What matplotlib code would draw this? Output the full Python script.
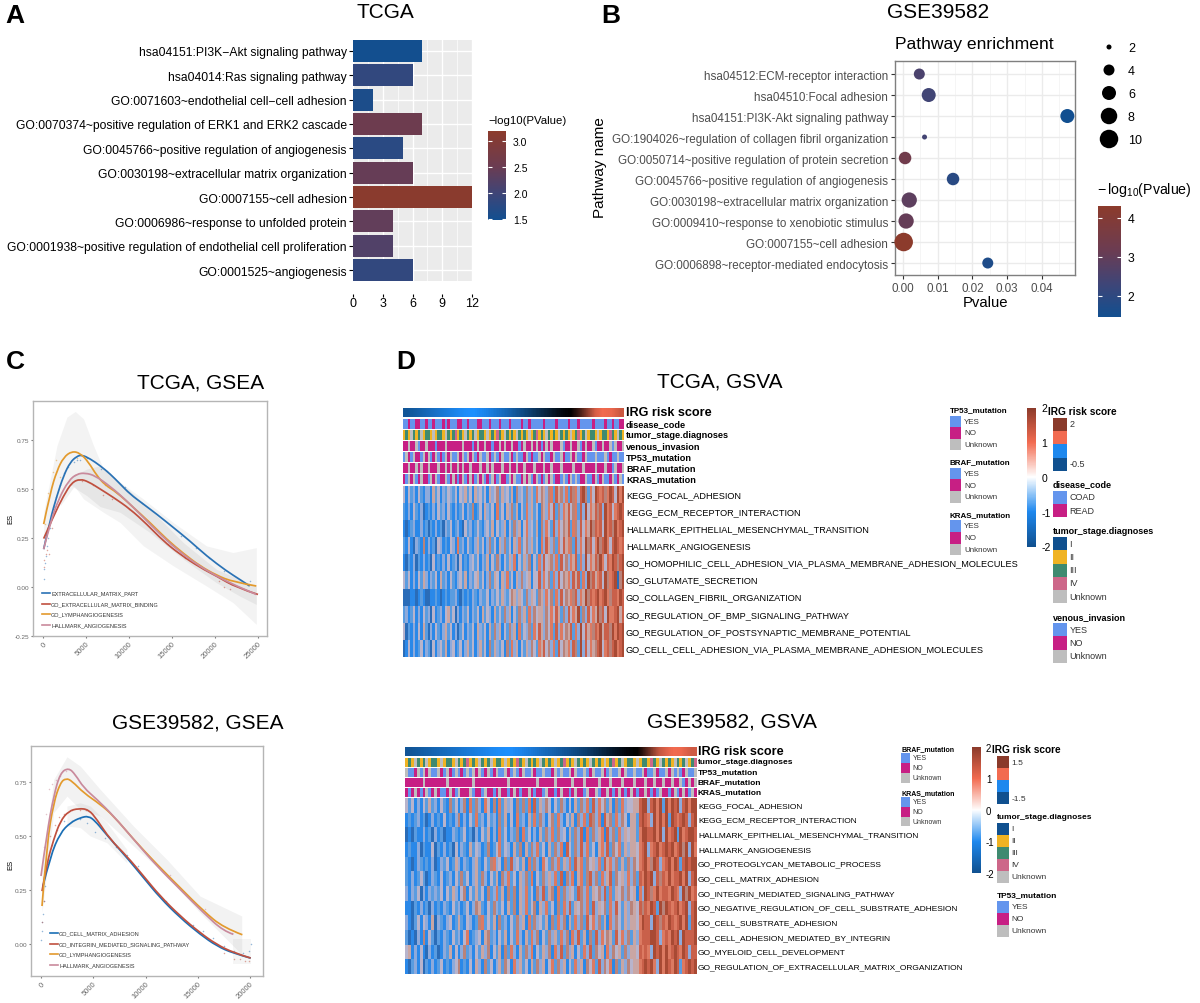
import numpy as np
import matplotlib
matplotlib.use("Agg")
import matplotlib.pyplot as plt
from matplotlib.cm import ScalarMappable
from matplotlib.colors import LinearSegmentedColormap, ListedColormap, Normalize
from matplotlib.patches import PathPatch, Rectangle
from matplotlib.path import Path

plt.rcParams['font.family'] = ['Liberation Sans', 'DejaVu Sans']
plt.rcParams['axes.unicode_minus'] = False

W, H = 1200, 1004

# panel A
a_terms = ['hsa04151:PI3K\u2212Akt signaling pathway', 'hsa04014:Ras signaling pathway',
           'GO:0071603~endothelial cell\u2212cell adhesion',
           'GO:0070374~positive regulation of ERK1 and ERK2 cascade',
           'GO:0045766~positive regulation of angiogenesis',
           'GO:0030198~extracellular matrix organization', 'GO:0007155~cell adhesion',
           'GO:0006986~response to unfolded protein',
           'GO:0001938~positive regulation of endothelial cell proliferation',
           'GO:0001525~angiogenesis']
a_counts = [7, 6, 2, 7, 5, 6, 12, 4, 4, 6]
a_logp = [1.5, 1.85, 1.6, 2.55, 1.75, 2.45, 3.15, 2.4, 2.2, 1.85]

# panel B
b_terms = ['hsa04512:ECM-receptor interaction', 'hsa04510:Focal adhesion',
           'hsa04151:PI3K-Akt signaling pathway',
           'GO:1904026~regulation of collagen fibril organization',
           'GO:0050714~positive regulation of protein secretion',
           'GO:0045766~positive regulation of angiogenesis',
           'GO:0030198~extracellular matrix organization',
           'GO:0009410~response to xenobiotic stimulus', 'GO:0007155~cell adhesion',
           'GO:0006898~receptor-mediated endocytosis']
b_pvalue = [0.0047, 0.0074, 0.0473, 0.0062, 0.0006, 0.0144, 0.0018, 0.0009, 0.0002, 0.0244]
b_logp = [2.55, 2.35, 1.4, 2.4, 3.35, 1.9, 2.9, 3.05, 4.3, 1.7]
b_count = [4, 6, 6, 2, 5, 5, 7, 7, 10, 4]
b_legend_counts = [2, 4, 6, 8, 10]

# panel C, GSEA TCGA
c_blue_x = [77, 850, 1623, 2396, 3168, 3941, 4521, 5487, 6646, 7805, 8965, 10124, 11669, 13215, 15147, 17079, 19011, 21329, 22875, 24034]
c_blue_y = [.193, .346, .466, .568, .637, .667, .674, .654, .619, .577, .526, .474, .423, .372, .304, .235, .159, .082, .039, .005]
c_red_x = [77, 1237, 2396, 3362, 4328, 5294, 6646, 8192, 10124, 12056, 13988, 15920, 18239, 20170, 22488, 25000]
c_red_y = [.247, .363, .466, .534, .551, .537, .5, .457, .398, .321, .235, .167, .1, .056, -.003, -.038]
c_orange_x = [77, 850, 1623, 2396, 3362, 4328, 5294, 6260, 7226, 8578, 10510, 12442, 14374, 16306, 18239, 20170, 22102, 24807]
c_orange_y = [.321, .483, .594, .662, .693, .683, .637, .568, .52, .483, .406, .329, .244, .172, .108, .06, .026, .005]
c_pink_x = [77, 850, 1816, 2976, 3941, 4907, 6067, 7805, 9737, 11669, 13601, 15533, 17852, 20170, 22488, 24807]
c_pink_y = [.193, .329, .449, .543, .577, .582, .568, .514, .44, .355, .27, .193, .116, .056, .005, -.038]
c_dots_blue_x = [77, 116, 193, 309, 464, 618, 850, 1005, 1237, 1546, 1932, 2396, 2860, 3555, 3941, 4328, 5100, 6800, 7500, 9500, 11500, 16100, 17800, 19300, 21100, 24100]
c_dots_blue_y = [.04, .09, .12, .16, .21, .25, .3, .36, .41, .46, .52, .58, .61, .64, .65, .65, .66, .6, .59, .51, .43, .26, .2, .15, .08, .03]
c_dots_red_x = [77, 150, 300, 450, 700, 1000, 3700, 4500, 5800, 7000, 8000, 10000, 14500, 16500, 20500, 21000, 21800]
c_dots_red_y = [.1, .14, .17, .19, .17, .3, .57, .54, .52, .47, .45, .4, .22, .15, .03, .0, -.01]
c_dots_orange_x = [200, 550, 1150, 1500, 2000, 3000, 4000, 7200]
c_dots_orange_y = [.32, .48, .585, .65, .56, .63, .66, .52]
c_band1_x = [77, 1623, 2782, 3748, 4714, 5873, 7033, 8965, 11669, 15147, 19011, 22102, 24807]
c_band1_hi = [.381, .722, .867, .896, .858, .722, .602, .534, .449, .329, .21, .176, .201]
c_band1_lo = [.21, .449, .531, .509, .449, .415, .381, .329, .21, .108, .005, -.08, -.191]
c_band2_x = [2009, 3555, 5100, 6646, 8965, 12442, 16306, 20170, 22875, 24807]
c_band2_hi = [.483, .568, .602, .619, .534, .398, .227, .09, .039, .005]
c_band2_lo = [.415, .509, .466, .41, .381, .278, .142, .022, -.046, -.089]
c_names = ['EXTRACELLULAR_MATRIX_PART', 'GO_EXTRACELLULAR_MATRIX_BINDING', 'GO_LYMPHANGIOGENESIS', 'HALLMARK_ANGIOGENESIS']

# panel C, GSEA GSE39582
e_pink_x = [0, 573, 1210, 1847, 2644, 3280, 4077, 5351, 6943, 8854, 11084, 13313, 15543, 17454, 18409]
e_pink_y = [.315, .515, .685, .793, .816, .785, .724, .67, .593, .485, .361, .253, .145, .06, .045]
e_orange_x = [96, 573, 1210, 1847, 2389, 2962, 4077, 5669, 6943, 8854, 11084, 13313, 15543, 17454, 19270]
e_orange_y = [.176, .469, .654, .747, .768, .755, .70, .647, .593, .485, .369, .261, .153, .076, .043]
e_red_x = [96, 573, 1210, 1847, 2644, 3599, 4555, 5351, 6625, 8217, 9810, 11402, 13313, 15224, 16816, 18409, 20065]
e_red_y = [.245, .376, .484, .569, .616, .628, .623, .577, .484, .407, .315, .222, .13, .052, -.002, -.04, -.065]
e_blue_x = [191, 892, 1847, 2803, 3758, 4555, 5192, 5988, 6943, 8217, 9810, 11402, 13313, 15224, 16816, 18409, 20065]
e_blue_y = [.268, .407, .515, .562, .585, .593, .569, .523, .469, .40, .307, .214, .122, .045, -.009, -.043, -.065]
e_dots_blue_x = [30, 60, 100, 150, 250, 400, 700, 1100, 1500, 2200, 3000, 3700, 4400, 5200, 6100, 7200, 8200, 9300, 12000, 14500, 15500, 16500, 17500, 18500, 19300, 19900, 20100]
e_dots_blue_y = [.02, .06, .1, .14, .2, .27, .38, .46, .53, .57, .57, .58, .56, .52, .49, .45, .41, .36, .2, .09, .06, .03, -.01, -.03, -.04, -.03, .0]
e_dots_red_x = [100, 250, 500, 900, 1300, 1700, 2200, 3000, 3700, 4300, 17500, 18500, 19000, 19500, 19900]
e_dots_red_y = [.1, .2, .35, .5, .55, .59, .6, .62, .62, .62, -.04, -.07, -.07, -.08, -.08]
e_dots_pink_x = [300, 500, 800, 1050, 1400, 1800, 2400, 12300, 15700, 18300]
e_dots_pink_y = [.45, .6, .72, .74, .76, .78, .8, .32, .16, .05]
e_band1_x = [96, 1210, 2484, 3758, 5669, 8854, 12039, 15224, 19206]
e_band1_hi = [.33, .762, .867, .824, .716, .546, .392, .222, .13]
e_band1_lo = [.145, .608, .685, .623, .593, .454, .315, .145, -.048]
e_band2_x = [2484, 3758, 4714, 6306, 8217]
e_band2_hi = [.639, .654, .639, .562, .438]
e_band2_lo = [.546, .539, .5, .469, .376]
e_band3_x = [18409, 20065]
e_band3_hi = [.022, .022]
e_band3_lo = [-.094, -.094]
e_names = ['GO_CELL_MATRIX_ADHESION', 'GO_INTEGRIN_MEDIATED_SIGNALING_PATHWAY', 'GO_LYMPHANGIOGENESIS', 'HALLMARK_ANGIOGENESIS']

# panel D, TCGA heatmap (one digit per stripe, low to high score)
d_labels = ['KEGG_FOCAL_ADHESION', 'KEGG_ECM_RECEPTOR_INTERACTION', 'HALLMARK_EPITHELIAL_MESENCHYMAL_TRANSITION',
            'HALLMARK_ANGIOGENESIS', 'GO_HOMOPHILIC_CELL_ADHESION_VIA_PLASMA_MEMBRANE_ADHESION_MOLECULES',
            'GO_GLUTAMATE_SECRETION', 'GO_COLLAGEN_FIBRIL_ORGANIZATION', 'GO_REGULATION_OF_BMP_SIGNALING_PATHWAY',
            'GO_REGULATION_OF_POSTSYNAPTIC_MEMBRANE_POTENTIAL', 'GO_CELL_CELL_ADHESION_VIA_PLASMA_MEMBRANE_ADHESION_MOLECULES']
d_rows = ['4142314213 3152413243 2414352415 3424153462 5342516342 6352746536 7285637286 7389627498 7867984979',
          '2131421301 2131423142 1312413261 2415324172 4153625142 7352416537 4826375846 7283947586 8397847898',
          '1012311312 0213120324 1231042312 4213425142 3514263514 7342516374 2837465827 6384759687 8497869789',
          '2141032161 3120431214 3172314213 5241362415 3624153724 6352417385 3627485762 8374968479 6897489878',
          '1021302131 2041213141 2304121342 4132514263 1425371425 3614273845 6372846375 8273947586 9748798689',
          '4241314253 1324152314 2134251324 5241362541 5372415363 4514483746 2738465738 5827396857 8496789069',
          '0001101210 0112101212 2310212132 1322413242 5324653542 6354265374 6273846576 8375968789 7897688798',
          '2312413142 3041231452 4031324132 4152431524 2635142635 2736455364 7485263847 5926384759 6849778958',
          '4021314152 0314213524 1302413241 5324152635 1426351724 3627485364 7283746582 7394857687 9588697989',
          '0141312413 2041342513 4124135241 3524162532 4162735142 5364275846 3728465738 6293847568 9478689789']
d_risk = [-0.45, -0.38, -0.30, -0.22, -0.14, -0.06, 0.02, 0.09, 0.125, 0.16, 0.2, 0.25, 0.3, 0.36, 0.42, 0.48, 0.54, 0.6, 0.66, 0.72, 0.75, 0.9, 1.1, 1.3, 1.38, 1.42, 1.6]
d_disease = 'aabaabbaab aabaaababa aabbaabaaa bbaaabaaab aaabaaaaba abaaaaabaa aabaaaabaa abaaaaabaa aabaabaabb'
d_stage = '1214212412 2141221421 2312142124 1221412132 1421214212 1412312142 1214212141 2312412214 1221321421'
d_venous = 'bbcbbcabbc bbbabbbcbb bbbbcbbbab cbbcbbabbc bcbbcbbabc bbcbcbabcb cbbbcabbcb bcabcbbcab bcbbcacbbc'
d_tp53 = 'acbacbbacb cabcabacbc aacbcacbca bcaacbacab caacbacaab cabaacbcaa bcaacbaacb caabcaaaca aacabaacaa'
d_braf = 'bbcbbcbcbb cbbbcbbcbc bbcbcbbcbb bcbbcbcbbb cbbcbbcbbc bbbcbbbcbb cbbbcbbbbc bbbcbbbbcb bbcbbacbbc'
d_kras = 'bacbcabcbb acbcabbcab cbabcabcba cbcabacbac bbacbcaabc bcabcabacb cabbacabca cabbcaabca bcaabcabca'

# panel D, GSE39582 heatmap
e_labels = ['KEGG_FOCAL_ADHESION', 'KEGG_ECM_RECEPTOR_INTERACTION', 'HALLMARK_EPITHELIAL_MESENCHYMAL_TRANSITION',
            'HALLMARK_ANGIOGENESIS', 'GO_PROTEOGLYCAN_METABOLIC_PROCESS', 'GO_CELL_MATRIX_ADHESION',
            'GO_INTEGRIN_MEDIATED_SIGNALING_PATHWAY', 'GO_NEGATIVE_REGULATION_OF_CELL_SUBSTRATE_ADHESION',
            'GO_CELL_SUBSTRATE_ADHESION', 'GO_CELL_ADHESION_MEDIATED_BY_INTEGRIN', 'GO_MYELOID_CELL_DEVELOPMENT',
            'GO_REGULATION_OF_EXTRACELLULAR_MATRIX_ORGANIZATION']
e_rows = ['4241314252 3142162413 6172631741 6172534162 6271825364 1426314152 6372837462 5162734455 8993897929 7989389799',
          '1212312013 1214121361 3142723142 3162514172 3152726314 6273142516 3728637185 6273641552 8987397979 2987898389',
          '0102113120 3120113212 4120314251 3172413261 7241315263 7263415263 8172635718 3627354552 7998897939 7892978998',
          '1211302114 0213120413 2152431261 2472431526 1526372415 2637184263 8372415738 2647253554 7893789789 8978969397',
          '2101321213 0132412531 3213521426 7341628342 5172631742 6372537285 7264537285 7362526364 7897698378 9798289899',
          '2131242013 2141231426 2413526314 2516372415 3627142635 3728163715 7268362735 8264537362 8798938687 9788979389',
          '3132403132 3241425314 6142524162 3725162615 3724163825 6172635428 6372546382 7254636451 7398679788 7987396978',
          '1102131203 1213214231 2413652142 6324152615 3724615372 4162738254 6372835462 7384253654 8687982969 8789789389',
          '3102414315 0321341252 1431267242 5162314263 5172634251 6273615273 6284736251 7364253554 7988398687 9878979289',
          '2010316142 0213214231 4712341562 3142514273 1527361426 3527361738 2516283746 5284736253 7888998378 7989398889',
          '4513141031 2013251413 6231425361 4251627315 2637142536 1738263514 2738264517 3645263554 8787398979 7898798388',
          '1023140213 1241213461 2141531624 1352641735 2415263514 7263514273 5164728364 7162536455 7898973979 8798278989']
e_risk = [-1.44, -1.36, -1.28, -1.2, -1.12, -1.04, -0.96, -0.88, -0.8, -0.75, -0.7, -0.64, -0.58, -0.52, -0.46, -0.4, -0.34, -0.26, -0.18, -0.1, -0.03, 0.0, 0.3, 0.6, 0.72, 0.78, 1.0]
e_stage = '1214212412 2141221421 2312142124 1221412132 1421214212 1412312142 1214212141 2312412214 1221321421 2142124123'
e_tp53 = 'caabcacbca acbacbacab acacbcabca bcaacbacab caacbaacaa bcacaacbca acabcaacba caacbcaaca acbaacbaac bcacabcaac'
e_braf = 'bbbbbbcbbb bbbbcbbbbb bbbcbbbbbb bbbbbcbbbb bbbbbcbbbb bcbbbbbcbb bcbbbbcbbb cbbbcbbbcb bbcbbcbbcb bcbbcabcbc'
e_kras = 'babcbabcab cbaabcbacb bbcabbacbb abcbbabcba bbcbabbacb babcbbabcb bacbbcabbc babcbabcba bbcbabacbb abcabcbacb'

# colours
low_high = LinearSegmentedColormap.from_list('lh', [(0, '#124f90'), (0.3, '#3f4577'), (0.6, '#6b3c52'), (1, '#8c3b2c')])
score_cmap = LinearSegmentedColormap.from_list('score', ['#10508f', '#1e88ee', '#ffffff', '#f26b50', '#8a3a2a'])
risk_cmap = LinearSegmentedColormap.from_list('risk', ['#10508f', '#1e90ff', '#000000', '#f26b50', '#8a3a2a'])
stripe_cmap = ListedColormap(['#2a6cb8', '#2a88e8', '#5a9ce0', '#8eaadb', '#b8b4cc',
                              '#c9a6a4', '#b9837a', '#dc7a62', '#c9604a', '#a84a34'])
yes_no = {'a': '#6495ed', 'b': '#c71f84', 'c': '#bebebe'}
stage_colors = ['#10508f', '#f0b323', '#3f8a70', '#cd6789', '#bebebe']
line_blue, line_red, line_orange, line_pink = '#2a72b5', '#c0503f', '#e39a2d', '#c98a9c'

fig = plt.figure(figsize=(W / 100, H / 100), dpi=100)


def px_ax(x0, y0, x1, y1):
    return fig.add_axes([x0 / W, 1 - y1 / H, (x1 - x0) / W, (y1 - y0) / H])


ov = fig.add_axes([0, 0, 1, 1], zorder=10)
ov.set_xlim(0, W)
ov.set_ylim(H, 0)
ov.axis('off')


def put(x, y, s, size, weight='normal', ha='left', color='black', rotation=0):
    ov.text(x, y, s, fontsize=size, fontweight=weight, ha=ha, va='center', color=color, rotation=rotation)


def swatches(x0, x1, ys, colors):
    for i, c in enumerate(colors):
        ov.add_patch(Rectangle((x0, ys[i]), x1 - x0, ys[i + 1] - ys[i], facecolor=c, edgecolor='none'))


def ticks_bar(box, norm, cmap, ticks, size, white=False):
    cax = px_ax(*box)
    cb = fig.colorbar(ScalarMappable(norm=norm, cmap=cmap), cax=cax)
    cb.outline.set_visible(False)
    cb.set_ticks(ticks)
    if white:
        cax.tick_params(axis='y', color='white', direction='in', length=3, left=True, right=True, labelsize=size, pad=5)
    else:
        cax.tick_params(axis='y', length=0, labelsize=size, pad=4)
    return cb


def smooth_line(ax, xs, ys, color):
    # knots act as quadratic control points so the thin lines have no corners
    pts = list(zip(xs, ys))
    verts, codes = [pts[0]], [Path.MOVETO]
    for i in range(1, len(pts) - 1):
        end = pts[-1] if i == len(pts) - 2 else ((pts[i][0] + pts[i + 1][0]) / 2, (pts[i][1] + pts[i + 1][1]) / 2)
        verts += [pts[i], end]
        codes += [Path.CURVE3, Path.CURVE3]
    ax.add_patch(PathPatch(Path(verts, codes), fill=False, edgecolor=color, lw=1.25))


for x, y, s in [(15, 16, 'A'), (611, 16, 'B'), (15, 362, 'C'), (406, 362, 'D')]:
    put(x, y, s, 19, 'bold', ha='center')
put(385, 12, 'TCGA', 15, ha='center')
put(938, 12, 'GSE39582', 15, ha='center')
put(201, 383, 'TCGA, GSEA', 15, ha='center')
put(198, 723, 'GSE39582, GSEA', 15, ha='center')
put(719.5, 382, 'TCGA, GSVA', 15, ha='center')
put(731.5, 722, 'GSE39582, GSVA', 15, ha='center')

# A: bars
ax = px_ax(353, 41, 472, 282)
ax.set_facecolor('#ebebeb')
norm_a = Normalize(1.48, 3.19)
ax.barh(range(10), a_counts, height=0.9, color=low_high(norm_a(a_logp)), zorder=3)
ax.set_xlim(0, 12)
ax.set_ylim(9.45, -0.45)
ax.set_xticks([0, 3, 6, 9, 12])
ax.set_xticks([1.5, 4.5, 7.5, 10.5], minor=True)
ax.set_yticks(range(10))
ax.set_yticklabels(a_terms, fontsize=8.7)
ax.grid(True, which='major', color='white', lw=1, zorder=1)
ax.grid(True, which='minor', axis='x', color='white', lw=0.5, zorder=1)
ax.tick_params(axis='x', which='minor', length=0)
ax.tick_params(axis='x', labelsize=9, length=2, pad=0.5)
ax.tick_params(axis='y', length=3, pad=1.5)
for k in ['top', 'right', 'left']:
    ax.spines[k].set_visible(False)
ax.spines['bottom'].set_position(('outward', 9))
ax.spines['bottom'].set_visible(False)
put(488, 121, '\u2212log10(PValue)', 8.2)
ticks_bar((488, 132, 506, 221), norm_a, low_high, [1.5, 2.0, 2.5, 3.0], 7.5, white=True)

# B: bubbles
ax = px_ax(895, 62, 1075, 276)
norm_b = Normalize(1.46, 4.3)
diam_px = np.interp(b_count, [2, 4, 6, 8, 10], [5, 11, 14, 16.5, 18.5])
ax.scatter(b_pvalue, range(10), s=(diam_px * 0.72) ** 2, c=low_high(norm_b(b_logp)), linewidths=0, zorder=3, clip_on=False)
ax.set_xlim(-0.0023, 0.0495)
ax.set_ylim(9.57, -0.62)
ax.set_xticks([0, 0.01, 0.02, 0.03, 0.04])
ax.set_xticklabels(['0.00', '0.01', '0.02', '0.03', '0.04'], fontsize=8.4, color='#4d4d4d')
ax.set_xticks([0.005, 0.015, 0.025, 0.035, 0.045], minor=True)
ax.set_yticks(range(10))
ax.set_yticklabels(b_terms, fontsize=8.4, color='#4d4d4d')
ax.grid(True, which='major', color='#ebebeb', lw=1, zorder=1)
ax.grid(True, which='minor', axis='x', color='#f2f2f2', lw=0.5, zorder=1)
ax.tick_params(axis='x', which='minor', length=0)
ax.tick_params(length=3, color='#333333', pad=2)
for s in ax.spines.values():
    s.set_color('#7f7f7f')
    s.set_linewidth(1)
put(895, 45, 'Pathway enrichment', 12.6)
put(985, 303, 'Pvalue', 10.7, ha='center')
put(600, 168, 'Pathway name', 11, ha='center', rotation=90)
leg_y = [48, 71, 94, 117, 140]
ov.scatter([1109] * 5, leg_y, s=(np.interp(b_legend_counts, [2, 4, 6, 8, 10], [5, 11, 14, 16.5, 18.5]) * 0.72) ** 2, c='black', linewidths=0)
for y, n in zip(leg_y, b_legend_counts):
    put(1128, y + 1, str(n), 9)
put(1097, 190, r'$\mathregular{-\,log_{10}(Pvalue)}$', 10.2)
ticks_bar((1097.5, 207, 1120.5, 318), norm_b, low_high, [2, 3, 4], 8.8, white=True)


def gsea_panel(box, xlim, ylim, xticks, curves, dots, bands, names, leg_x, leg_ys):
    ax = px_ax(*box)
    for bx, lo, hi, alpha in bands:
        ax.fill_between(bx, lo, hi, color='#808080', alpha=alpha, lw=0)
    for dx, dy, c in dots:
        ax.scatter(dx, dy, s=1.2, color=c, alpha=0.5, linewidths=0)
    for cx, cy, c in curves:
        smooth_line(ax, cx, cy, c)
    ax.set_xlim(*xlim)
    ax.set_ylim(*ylim)
    ax.set_xticks(xticks)
    ax.set_yticks([0, .25, .5, .75] if ylim[0] > -0.2 else [-.25, 0, .25, .5, .75])
    ax.yaxis.set_major_formatter(lambda v, p: f'{v:.2f}')
    ax.tick_params(axis='x', labelsize=5.5, labelcolor='#666666', rotation=45, length=1.5, pad=1.5, color='#777777')
    ax.tick_params(axis='y', labelsize=4.6, labelcolor='#666666', length=1.5, pad=1, color='#777777')
    for lab in ax.get_xticklabels():
        lab.set_ha('right')
        lab.set_rotation_mode('anchor')
    for s in ax.spines.values():
        s.set_color('#b5b5b5')
        s.set_linewidth(1)
    for y, n, c in zip(leg_ys, names, [curves[0][2], curves[1][2], curves[2][2], curves[3][2]]):
        ov.plot([leg_x - 9.5, leg_x - 1], [y, y], color=c, lw=1.2)
        put(leg_x, y, n, 4, color='#333333')


gsea_panel((33, 402, 267, 637), (-1163, 26050), (-0.25, 0.949), [0, 5000, 10000, 15000, 20000, 25000],
           [(c_blue_x, c_blue_y, line_blue), (c_red_x, c_red_y, line_red),
            (c_orange_x, c_orange_y, line_orange), (c_pink_x, c_pink_y, line_pink)],
           [(c_dots_blue_x, c_dots_blue_y, line_blue), (c_dots_red_x, c_dots_red_y, line_red),
            (c_dots_orange_x, c_dots_orange_y, line_orange)],
           [(c_band1_x, c_band1_lo, c_band1_hi, 0.09), (c_band2_x, c_band2_lo, c_band2_hi, 0.11)],
           c_names, 51, [594, 605, 615, 626])
put(11, 519, 'ES', 5.5, ha='center', rotation=90)

gsea_panel((31, 747, 263, 977), (-957, 21244), (-0.148, 0.917), [0, 5000, 10000, 15000, 20000],
           [(e_blue_x, e_blue_y, '#1b6fb5'), (e_red_x, e_red_y, line_red),
            (e_orange_x, e_orange_y, line_orange), (e_pink_x, e_pink_y, line_pink)],
           [(e_dots_blue_x, e_dots_blue_y, line_blue), (e_dots_red_x, e_dots_red_y, line_red),
            (e_dots_pink_x, e_dots_pink_y, line_pink)],
           [(e_band1_x, e_band1_lo, e_band1_hi, 0.1), (e_band2_x, e_band2_lo, e_band2_hi, 0.09),
            (e_band3_x, e_band3_lo, e_band3_hi, 0.08)],
           e_names, 59, [934, 945, 955, 966])
put(11, 865, 'ES', 5.5, ha='center', rotation=90)


def to_cells(row):
    return [int(c) for c in row.replace(' ', '')]


def heat_body(box, rows):
    ax = px_ax(*box)
    ax.imshow(np.array([to_cells(r) for r in rows]), aspect='auto', cmap=stripe_cmap, vmin=0, vmax=9, interpolation='nearest')
    ax.axis('off')


def track_yes_no(box, codes):
    ax = px_ax(*box)
    colors = [matplotlib.colors.to_rgb(yes_no[c]) for c in codes.replace(' ', '')]
    ax.imshow([colors], aspect='auto', interpolation='nearest')
    ax.axis('off')


def track_stage(box, codes):
    ax = px_ax(*box)
    ax.imshow([to_cells(codes)], aspect='auto', cmap=ListedColormap(stage_colors), vmin=0, vmax=4, interpolation='nearest')
    ax.axis('off')


def track_risk(box, values, vmin, vmax):
    ax = px_ax(*box)
    ax.imshow([values], aspect='auto', cmap=risk_cmap, vmin=vmin, vmax=vmax, interpolation='bilinear')
    ax.axis('off')


# D: TCGA heatmap
xa, xb = 403, 624
track_risk((xa, 409, xb, 418), d_risk, -0.5, 2)
track_yes_no((xa, 420.3, xb, 430), d_disease)
track_stage((xa, 431, xb, 441), d_stage)
track_yes_no((xa, 442, xb, 452), d_venous)
track_yes_no((xa, 453, xb, 463), d_tp53)
track_yes_no((xa, 464, xb, 474), d_braf)
track_yes_no((xa, 475, xb, 485), d_kras)
heat_body((xa, 487, xb, 658), d_rows)
put(626, 413, 'IRG risk score', 9.1, 'bold')
for y, s in zip([425, 436, 447, 458, 469, 480],
                ['disease_code', 'tumor_stage.diagnoses', 'venous_invasion', 'TP53_mutation', 'BRAF_mutation', 'KRAS_mutation']):
    put(626, y, s, 6.6, 'bold')
for i, s in enumerate(d_labels):
    put(626, 487 + (i + 0.5) * 17.1, s, 6.6)

yn_colors = [yes_no['a'], yes_no['b'], yes_no['c']]
yn_text = ['YES', 'NO', 'Unknown']
for title, ty, ys in [('TP53_mutation', 411, [416.6, 428, 439.5, 451]),
                      ('BRAF_mutation', 463, [469, 480.4, 492, 504]),
                      ('KRAS_mutation', 515.5, [521, 533, 544.5, 556])]:
    put(950, ty, title, 5.8, 'bold')
    swatches(950, 961.4, ys, yn_colors)
    for i, s in enumerate(yn_text):
        put(964, (ys[i] + ys[i + 1]) / 2, s, 5.8, color='#333333')
ticks_bar((1027, 408.5, 1035.6, 547.5), Normalize(-2, 2), score_cmap, [-2, -1, 0, 1, 2], 7.5)
put(1047.5, 412, 'IRG risk score', 7.3, 'bold')
swatches(1053, 1067, [418.6, 432, 445, 458.5, 472], ['#8a3a2a', '#f26b50', '#1e88ee', '#10508f'])
put(1069.4, 425, '2', 6.5, color='#333333')
put(1069.4, 465, '-0.5', 6.5, color='#333333')
put(1053, 485, 'disease_code', 6.5, 'bold')
swatches(1053, 1067, [491.5, 504.7, 518], yn_colors[:2])
put(1069.4, 498, 'COAD', 6.5, color='#333333')
put(1069.4, 511, 'READ', 6.5, color='#333333')
put(1053, 532, 'tumor_stage.diagnoses', 6.5, 'bold')
swatches(1053, 1067, [538, 551, 564.5, 577.6, 590.7, 604], stage_colors)
for y, s in zip([544.5, 558, 571, 584, 597.5], ['I', 'II', 'III', 'IV', 'Unknown']):
    put(1069.4, y, s, 6.5, color='#333333')
put(1053, 618, 'venous_invasion', 6.5, 'bold')
swatches(1053, 1067, [624, 637.3, 650.5, 664], yn_colors)
for y, s in zip([630.6, 644, 657], yn_text):
    put(1069.4, y, s, 6.5, color='#333333')

# D: GSE39582 heatmap
xa, xb = 405, 696
track_risk((xa, 748, xb, 757), e_risk, -1.5, 1.5)
track_stage((xa, 758.5, xb, 768), e_stage)
track_yes_no((xa, 769, xb, 778), e_tp53)
track_yes_no((xa, 779, xb, 788), e_braf)
track_yes_no((xa, 789, xb, 798), e_kras)
heat_body((xa, 799, xb, 975), e_rows)
put(698, 752, 'IRG risk score', 9.1, 'bold')
for y, s in zip([763, 773, 783, 793], ['tumor_stage.diagnoses', 'TP53_mutation', 'BRAF_mutation', 'KRAS_mutation']):
    put(698, y, s, 6, 'bold')
for i, s in enumerate(e_labels):
    put(698, 799 + (i + 0.5) * 14.67, s, 6.05)

for title, ty, ys in [('BRAF_mutation', 750, [754, 764, 774, 784]),
                      ('KRAS_mutation', 794, [798, 808, 818, 827])]:
    put(901, ty, title, 5, 'bold')
    swatches(901, 910, ys, yn_colors)
    for i, s in enumerate(yn_text):
        put(912.6, (ys[i] + ys[i + 1]) / 2, s, 5, color='#333333')
ticks_bar((972, 748, 980.5, 874), Normalize(-2, 2), score_cmap, [-2, -1, 0, 1, 2], 7)
put(992, 750, 'IRG risk score', 7.3, 'bold')
swatches(996.6, 1008.8, [757.3, 769.4, 781.2, 793.4, 805.2], ['#8a3a2a', '#f26b50', '#1e88ee', '#10508f'])
put(1011.5, 763.7, '1.5', 6, color='#333333')
put(1011.5, 799.5, '-1.5', 6, color='#333333')
put(996.6, 817.7, 'tumor_stage.diagnoses', 6, 'bold')
swatches(996.6, 1008.8, [823.8, 835.6, 847.7, 859.5, 871.7, 883.5], stage_colors)
for y, s in zip([829.7, 841.6, 853.6, 865.6, 877.6], ['I', 'II', 'III', 'IV', 'Unknown']):
    put(1011.5, y, s, 6, color='#333333')
put(996.6, 896, 'TP53_mutation', 6, 'bold')
swatches(996.6, 1008.8, [902, 914, 926, 938], yn_colors)
for y, s in zip([908, 920, 932], yn_text):
    put(1011.5, y, s, 6, color='#333333')

fig.savefig('out.png', dpi=100)
